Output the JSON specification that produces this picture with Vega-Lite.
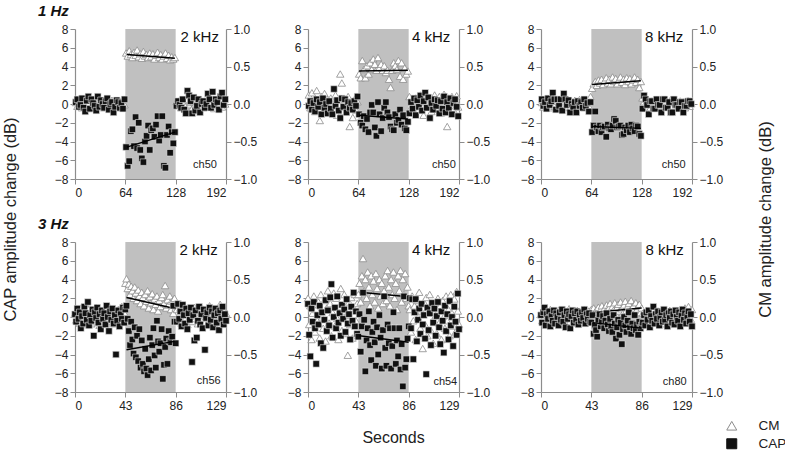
{
  "$schema": "https://vega.github.io/schema/vega-lite/v6.json",
  "description": "CAP and CM amplitude change during 1 Hz and 3 Hz stimulation, six channels",
  "padding": {"left": 2, "top": 4, "right": 0, "bottom": 0},
  "config": {
    "font": "Liberation Sans",
    "view": {"stroke": null},
    "axis": {
      "grid": false,
      "domainColor": "#8c8c8c",
      "domainWidth": 1.2,
      "tickColor": "#8c8c8c",
      "tickSize": 5,
      "labelColor": "#222222",
      "labelFontSize": 12,
      "labelPadding": 2,
      "titleFontSize": 16.5,
      "titleFontWeight": "normal",
      "titleColor": "#222222"
    },
    "legend": {
      "orient": "none",
      "legendX": 650,
      "legendY": 390,
      "symbolSize": 100,
      "symbolStrokeWidth": 1,
      "labelFontSize": 13.5,
      "labelColor": "#222222",
      "labelOffset": 20,
      "rowPadding": 3
    }
  },
  "datasets": {
    "p1": [
      {"t":1,"CM":0.02,"CAP":0.2},{"t":3,"CM":-0.03,"CAP":0.5},{"t":5,"CM":0.04,"CAP":-0.3},{"t":7,"CM":0.0,"CAP":-0.1},
      {"t":9,"CM":-0.05,"CAP":0.6},{"t":11,"CM":0.03,"CAP":-0.4},{"t":13,"CM":0.06,"CAP":-0.8},{"t":15,"CM":-0.02,"CAP":0.35},
      {"t":17,"CM":0.01,"CAP":0.8},{"t":19,"CM":-0.06,"CAP":-0.5},{"t":21,"CM":0.05,"CAP":0.5},{"t":23,"CM":-0.01,"CAP":0.1},
      {"t":25,"CM":0.03,"CAP":-0.2},{"t":27,"CM":-0.04,"CAP":-0.7},{"t":29,"CM":0.02,"CAP":0.8},{"t":31,"CM":0.05,"CAP":-0.3},
      {"t":33,"CM":-0.03,"CAP":0.4},{"t":35,"CM":0.01,"CAP":0.0},{"t":37,"CM":-0.05,"CAP":-0.4},{"t":39,"CM":0.04,"CAP":0.3},
      {"t":41,"CM":0.0,"CAP":0.6},{"t":43,"CM":0.02,"CAP":-0.6},{"t":45,"CM":-0.04,"CAP":0.0},{"t":47,"CM":0.05,"CAP":0.2},
      {"t":49,"CM":-0.02,"CAP":-0.9},{"t":51,"CM":0.03,"CAP":-0.3},{"t":53,"CM":-0.05,"CAP":0.4},{"t":55,"CM":0.01,"CAP":0.2},
      {"t":57,"CM":0.04,"CAP":-0.4},{"t":59,"CM":-0.03,"CAP":0.1},{"t":61,"CM":0.02,"CAP":-0.5},{"t":63,"CM":-0.01,"CAP":0.5},
      {"t":65,"CM":0.68,"CAP":-4.6},{"t":67,"CM":0.64,"CAP":-6.6},{"t":69,"CM":0.71,"CAP":-6.1},{"t":71,"CM":0.66,"CAP":-2.9},
      {"t":73,"CM":0.62,"CAP":-2.7},{"t":75,"CM":0.69,"CAP":-4.5},{"t":77,"CM":0.65,"CAP":-1.4},{"t":79,"CM":0.72,"CAP":-4.7},
      {"t":81,"CM":0.63,"CAP":-2.0},{"t":83,"CM":0.67,"CAP":-4.9},{"t":85,"CM":0.61,"CAP":-5.8},{"t":87,"CM":0.70,"CAP":-6.2},
      {"t":89,"CM":0.64,"CAP":-4.0},{"t":91,"CM":0.66,"CAP":-3.4},{"t":93,"CM":0.62,"CAP":-2.3},{"t":95,"CM":0.68,"CAP":-4.9},
      {"t":97,"CM":0.63,"CAP":-2.8},{"t":99,"CM":0.67,"CAP":-2.6},{"t":101,"CM":0.60,"CAP":-3.5},{"t":103,"CM":0.65,"CAP":-2.2},
      {"t":105,"CM":0.69,"CAP":-1.3},{"t":107,"CM":0.62,"CAP":-3.9},{"t":109,"CM":0.66,"CAP":-3.3},{"t":111,"CM":0.60,"CAP":-1.3},
      {"t":113,"CM":0.64,"CAP":-6.6},{"t":115,"CM":0.68,"CAP":-6.8},{"t":117,"CM":0.61,"CAP":-3.3},{"t":119,"CM":0.65,"CAP":-2.4},
      {"t":121,"CM":0.59,"CAP":-5.2},{"t":123,"CM":0.63,"CAP":-3.0},{"t":125,"CM":0.60,"CAP":-4.2},{"t":127,"CM":0.62,"CAP":-3.0},
      {"t":129,"CM":0.03,"CAP":-0.2},{"t":131,"CM":-0.02,"CAP":0.3},{"t":133,"CM":0.05,"CAP":-0.1},{"t":135,"CM":-0.05,"CAP":-0.4},
      {"t":137,"CM":0.01,"CAP":0.5},{"t":139,"CM":0.04,"CAP":-0.6},{"t":141,"CM":-0.03,"CAP":-1.0},{"t":143,"CM":0.06,"CAP":1.4},
      {"t":145,"CM":-0.01,"CAP":0.9},{"t":147,"CM":0.02,"CAP":0.3},{"t":149,"CM":-0.06,"CAP":-1.0},{"t":151,"CM":0.03,"CAP":0.7},
      {"t":153,"CM":0.0,"CAP":-0.7},{"t":155,"CM":-0.04,"CAP":-0.2},{"t":157,"CM":0.05,"CAP":0.5},{"t":159,"CM":-0.02,"CAP":-0.9},
      {"t":161,"CM":0.02,"CAP":0.0},{"t":163,"CM":-0.05,"CAP":0.3},{"t":165,"CM":0.04,"CAP":-0.4},{"t":167,"CM":0.0,"CAP":0.0},
      {"t":169,"CM":-0.03,"CAP":1.1},{"t":171,"CM":0.06,"CAP":0.5},{"t":173,"CM":-0.01,"CAP":-0.4},{"t":175,"CM":0.03,"CAP":1.3},
      {"t":177,"CM":-0.06,"CAP":-0.1},{"t":179,"CM":0.02,"CAP":0.5},{"t":181,"CM":0.05,"CAP":0.2},{"t":183,"CM":-0.02,"CAP":-0.6},
      {"t":185,"CM":0.01,"CAP":0.8},{"t":187,"CM":-0.04,"CAP":1.2},{"t":189,"CM":0.03,"CAP":-0.1},{"t":191,"CM":0.0,"CAP":0.5}
    ],
    "p2": [
      {"t":1,"CM":0.12,"CAP":-0.2},{"t":3,"CM":-0.05,"CAP":0.3},{"t":5,"CM":0.15,"CAP":-0.6},{"t":7,"CM":0.02,"CAP":0.1},
      {"t":9,"CM":-0.10,"CAP":-0.8},{"t":11,"CM":0.18,"CAP":0.5},{"t":13,"CM":0.05,"CAP":-0.3},{"t":15,"CM":-0.22,"CAP":0.2},
      {"t":17,"CM":0.10,"CAP":-1.1},{"t":19,"CM":-0.03,"CAP":0.6},{"t":21,"CM":0.14,"CAP":-0.4},{"t":23,"CM":-0.12,"CAP":0.0},
      {"t":25,"CM":0.06,"CAP":-1.0},{"t":27,"CM":-0.08,"CAP":0.3},{"t":29,"CM":0.08,"CAP":-0.5},{"t":31,"CM":0.0,"CAP":-1.1},
      {"t":33,"CM":-0.06,"CAP":1.6},{"t":35,"CM":0.12,"CAP":-0.2},{"t":37,"CM":-0.15,"CAP":0.4},{"t":39,"CM":0.05,"CAP":-0.7},
      {"t":41,"CM":0.40,"CAP":-1.5},{"t":43,"CM":0.28,"CAP":0.6},{"t":45,"CM":-0.10,"CAP":-0.3},{"t":47,"CM":0.07,"CAP":0.5},
      {"t":49,"CM":-0.04,"CAP":-0.9},{"t":51,"CM":0.10,"CAP":0.2},{"t":53,"CM":-0.30,"CAP":-0.4},{"t":55,"CM":0.02,"CAP":0.1},
      {"t":57,"CM":-0.18,"CAP":-0.6},{"t":59,"CM":0.06,"CAP":0.3},{"t":61,"CM":-0.08,"CAP":-0.2},{"t":63,"CM":0.03,"CAP":0.8},
      {"t":65,"CM":0.40,"CAP":-1.1},{"t":67,"CM":0.35,"CAP":-2.0},{"t":69,"CM":0.58,"CAP":-2.3},{"t":71,"CM":0.46,"CAP":-1.3},
      {"t":73,"CM":0.35,"CAP":-2.7},{"t":75,"CM":0.51,"CAP":-1.6},{"t":77,"CM":0.40,"CAP":-3.0},{"t":79,"CM":0.55,"CAP":-0.9},
      {"t":81,"CM":0.46,"CAP":-0.1},{"t":83,"CM":0.60,"CAP":-0.9},{"t":85,"CM":0.53,"CAP":-2.5},{"t":87,"CM":0.45,"CAP":-3.4},
      {"t":89,"CM":0.62,"CAP":0.2},{"t":91,"CM":0.49,"CAP":-1.1},{"t":93,"CM":0.53,"CAP":-2.9},{"t":95,"CM":0.45,"CAP":-1.5},
      {"t":97,"CM":0.51,"CAP":-0.4},{"t":99,"CM":0.42,"CAP":0.2},{"t":101,"CM":0.45,"CAP":-0.9},{"t":103,"CM":0.33,"CAP":-1.4},
      {"t":105,"CM":0.22,"CAP":-2.4},{"t":107,"CM":0.45,"CAP":-2.7},{"t":109,"CM":0.55,"CAP":-2.8},{"t":111,"CM":0.51,"CAP":-1.1},
      {"t":113,"CM":0.46,"CAP":-2.0},{"t":115,"CM":0.58,"CAP":-1.7},{"t":117,"CM":0.37,"CAP":-0.6},{"t":119,"CM":0.55,"CAP":-2.2},
      {"t":121,"CM":0.33,"CAP":-1.2},{"t":123,"CM":0.48,"CAP":-2.6},{"t":125,"CM":0.40,"CAP":-2.8},{"t":127,"CM":0.44,"CAP":-1.9},
      {"t":129,"CM":0.10,"CAP":-1.0},{"t":131,"CM":-0.05,"CAP":0.2},{"t":133,"CM":0.04,"CAP":-0.5},{"t":135,"CM":-0.12,"CAP":0.6},
      {"t":137,"CM":0.08,"CAP":-1.2},{"t":139,"CM":0.0,"CAP":0.4},{"t":141,"CM":-0.08,"CAP":-0.3},{"t":143,"CM":0.12,"CAP":0.9},
      {"t":145,"CM":0.03,"CAP":-0.7},{"t":147,"CM":-0.15,"CAP":0.3},{"t":149,"CM":0.06,"CAP":1.2},{"t":151,"CM":0.10,"CAP":-0.4},
      {"t":153,"CM":-0.03,"CAP":0.7},{"t":155,"CM":0.08,"CAP":-1.5},{"t":157,"CM":-0.10,"CAP":0.1},{"t":159,"CM":0.05,"CAP":-0.6},
      {"t":161,"CM":0.12,"CAP":0.5},{"t":163,"CM":-0.06,"CAP":-0.2},{"t":165,"CM":0.02,"CAP":0.4},{"t":167,"CM":0.10,"CAP":-1.0},
      {"t":169,"CM":-0.12,"CAP":0.3},{"t":171,"CM":0.04,"CAP":-0.5},{"t":173,"CM":0.13,"CAP":0.8},{"t":175,"CM":-0.05,"CAP":-0.9},
      {"t":177,"CM":-0.30,"CAP":0.2},{"t":179,"CM":0.08,"CAP":-0.4},{"t":181,"CM":-0.02,"CAP":0.6},{"t":183,"CM":0.10,"CAP":-1.1},
      {"t":185,"CM":-0.08,"CAP":0.1},{"t":187,"CM":0.05,"CAP":0.5},{"t":189,"CM":0.11,"CAP":-0.3},{"t":191,"CM":-0.04,"CAP":-1.3}
    ],
    "p3": [
      {"t":1,"CM":0.02,"CAP":0.5},{"t":3,"CM":-0.04,"CAP":-0.2},{"t":5,"CM":0.05,"CAP":0.2},{"t":7,"CM":-0.02,"CAP":-0.5},
      {"t":9,"CM":0.03,"CAP":0.6},{"t":11,"CM":-0.05,"CAP":-0.1},{"t":13,"CM":0.06,"CAP":0.3},{"t":15,"CM":0.0,"CAP":1.2},
      {"t":17,"CM":-0.03,"CAP":0.5},{"t":19,"CM":0.04,"CAP":-0.6},{"t":21,"CM":-0.06,"CAP":0.5},{"t":23,"CM":0.02,"CAP":-0.2},
      {"t":25,"CM":0.05,"CAP":0.5},{"t":27,"CM":-0.01,"CAP":-0.7},{"t":29,"CM":0.03,"CAP":1.1},{"t":31,"CM":-0.04,"CAP":0.5},
      {"t":33,"CM":0.06,"CAP":-0.1},{"t":35,"CM":0.01,"CAP":0.4},{"t":37,"CM":-0.05,"CAP":-0.9},{"t":39,"CM":0.03,"CAP":0.0},
      {"t":41,"CM":0.0,"CAP":-0.3},{"t":43,"CM":0.05,"CAP":0.2},{"t":45,"CM":-0.03,"CAP":-0.9},{"t":47,"CM":0.02,"CAP":0.3},
      {"t":49,"CM":0.06,"CAP":-0.2},{"t":51,"CM":-0.02,"CAP":0.2},{"t":53,"CM":0.04,"CAP":-0.4},{"t":55,"CM":-0.05,"CAP":0.5},
      {"t":57,"CM":0.01,"CAP":-0.2},{"t":59,"CM":0.05,"CAP":0.1},{"t":61,"CM":-0.03,"CAP":-0.8},{"t":63,"CM":0.10,"CAP":0.2},
      {"t":65,"CM":0.21,"CAP":-3.0},{"t":67,"CM":0.27,"CAP":-2.3},{"t":69,"CM":0.30,"CAP":-0.8},{"t":71,"CM":0.25,"CAP":-2.5},
      {"t":73,"CM":0.32,"CAP":-2.9},{"t":75,"CM":0.28,"CAP":-2.3},{"t":77,"CM":0.33,"CAP":-3.0},{"t":79,"CM":0.26,"CAP":-2.5},
      {"t":81,"CM":0.31,"CAP":-2.4},{"t":83,"CM":0.35,"CAP":-3.5},{"t":85,"CM":0.28,"CAP":-2.2},{"t":87,"CM":0.33,"CAP":-2.6},
      {"t":89,"CM":0.27,"CAP":-2.7},{"t":91,"CM":0.36,"CAP":-2.3},{"t":93,"CM":0.30,"CAP":-1.6},{"t":95,"CM":0.34,"CAP":-1.8},
      {"t":97,"CM":0.27,"CAP":-2.5},{"t":99,"CM":0.32,"CAP":-2.4},{"t":101,"CM":0.36,"CAP":-2.3},{"t":103,"CM":0.29,"CAP":-3.3},
      {"t":105,"CM":0.33,"CAP":-3.2},{"t":107,"CM":0.26,"CAP":-2.5},{"t":109,"CM":0.35,"CAP":-2.8},{"t":111,"CM":0.30,"CAP":-2.3},
      {"t":113,"CM":0.34,"CAP":-3.0},{"t":115,"CM":0.27,"CAP":-2.2},{"t":117,"CM":0.32,"CAP":-2.6},{"t":119,"CM":0.36,"CAP":-2.9},
      {"t":121,"CM":0.29,"CAP":-2.3},{"t":123,"CM":0.33,"CAP":-2.4},{"t":125,"CM":0.22,"CAP":-3.2},{"t":127,"CM":0.30,"CAP":-3.4},
      {"t":129,"CM":0.08,"CAP":-0.5},{"t":131,"CM":0.03,"CAP":0.9},{"t":133,"CM":-0.04,"CAP":0.5},{"t":135,"CM":0.05,"CAP":-0.1},
      {"t":137,"CM":0.0,"CAP":-1.1},{"t":139,"CM":-0.05,"CAP":0.3},{"t":141,"CM":0.04,"CAP":0.3},{"t":143,"CM":0.02,"CAP":-0.5},
      {"t":145,"CM":-0.03,"CAP":-0.5},{"t":147,"CM":0.06,"CAP":0.5},{"t":149,"CM":0.0,"CAP":-0.1},{"t":151,"CM":-0.05,"CAP":-0.1},
      {"t":153,"CM":0.03,"CAP":-0.9},{"t":155,"CM":0.05,"CAP":0.5},{"t":157,"CM":-0.02,"CAP":0.5},{"t":159,"CM":0.04,"CAP":-0.4},
      {"t":161,"CM":-0.04,"CAP":-0.4},{"t":163,"CM":0.01,"CAP":0.2},{"t":165,"CM":0.06,"CAP":-0.9},{"t":167,"CM":-0.03,"CAP":-0.9},
      {"t":169,"CM":0.02,"CAP":0.5},{"t":171,"CM":0.05,"CAP":-0.1},{"t":173,"CM":-0.05,"CAP":-0.1},{"t":175,"CM":0.0,"CAP":-0.5},
      {"t":177,"CM":0.04,"CAP":0.2},{"t":179,"CM":-0.02,"CAP":0.2},{"t":181,"CM":0.03,"CAP":-0.9},{"t":183,"CM":-0.05,"CAP":-0.2},
      {"t":185,"CM":0.02,"CAP":-0.2},{"t":187,"CM":0.05,"CAP":0.3},{"t":189,"CM":-0.03,"CAP":0.3},{"t":191,"CM":0.01,"CAP":0.0}
    ],
    "p4": [
      {"t":0,"CM":0.05,"CAP":0.3},{"t":1,"CM":-0.04,"CAP":-0.5},{"t":2,"CM":0.10,"CAP":0.9},{"t":3,"CM":0.02,"CAP":-0.2},
      {"t":4,"CM":-0.08,"CAP":0.5},{"t":5,"CM":0.12,"CAP":-1.2},{"t":6,"CM":0.0,"CAP":0.1},{"t":7,"CM":-0.05,"CAP":-0.7},
      {"t":8,"CM":0.07,"CAP":1.1},{"t":9,"CM":-0.10,"CAP":0.4},{"t":10,"CM":0.03,"CAP":-0.3},{"t":11,"CM":0.11,"CAP":1.6},
      {"t":12,"CM":-0.02,"CAP":-0.9},{"t":13,"CM":0.06,"CAP":0.2},{"t":14,"CM":-0.09,"CAP":-0.4},{"t":15,"CM":0.09,"CAP":0.8},
      {"t":16,"CM":0.01,"CAP":-2.0},{"t":17,"CM":-0.06,"CAP":0.5},{"t":18,"CM":0.13,"CAP":-0.1},{"t":19,"CM":-0.03,"CAP":1.0},
      {"t":20,"CM":0.04,"CAP":-0.6},{"t":21,"CM":-0.11,"CAP":0.3},{"t":22,"CM":0.08,"CAP":-1.3},{"t":23,"CM":0.0,"CAP":0.7},
      {"t":24,"CM":-0.06,"CAP":-0.2},{"t":25,"CM":0.10,"CAP":0.4},{"t":26,"CM":0.03,"CAP":-0.8},{"t":27,"CM":-0.08,"CAP":1.2},
      {"t":28,"CM":0.06,"CAP":0.0},{"t":29,"CM":-0.02,"CAP":-1.5},{"t":30,"CM":0.12,"CAP":0.6},{"t":31,"CM":-0.05,"CAP":-0.3},
      {"t":32,"CM":0.02,"CAP":0.9},{"t":33,"CM":0.08,"CAP":-0.7},{"t":34,"CM":-0.09,"CAP":0.2},{"t":35,"CM":0.05,"CAP":-4.0},
      {"t":36,"CM":-0.01,"CAP":-0.4},{"t":37,"CM":0.10,"CAP":0.7},{"t":38,"CM":-0.06,"CAP":-1.0},{"t":39,"CM":0.03,"CAP":0.3},
      {"t":40,"CM":0.14,"CAP":-0.2},{"t":41,"CM":-0.03,"CAP":1.0},{"t":42,"CM":0.06,"CAP":-0.6},{"t":43,"CM":0.45,"CAP":0.8},
      {"t":44,"CM":0.51,"CAP":1.2},{"t":45,"CM":0.38,"CAP":-0.2},{"t":46,"CM":0.44,"CAP":-1.5},{"t":47,"CM":0.30,"CAP":-3.0},
      {"t":48,"CM":0.41,"CAP":-0.5},{"t":49,"CM":0.35,"CAP":-2.4},{"t":50,"CM":0.25,"CAP":-3.9},{"t":51,"CM":0.40,"CAP":-1.1},
      {"t":52,"CM":0.32,"CAP":-4.3},{"t":53,"CM":0.22,"CAP":-2.0},{"t":54,"CM":0.36,"CAP":-4.7},{"t":55,"CM":0.28,"CAP":-1.3},
      {"t":56,"CM":0.18,"CAP":-5.4},{"t":57,"CM":0.33,"CAP":-2.5},{"t":58,"CM":0.26,"CAP":-5.0},{"t":59,"CM":0.15,"CAP":-5.8},
      {"t":60,"CM":0.30,"CAP":-3.4},{"t":61,"CM":0.21,"CAP":-5.5},{"t":62,"CM":0.35,"CAP":-6.2},{"t":63,"CM":0.12,"CAP":-4.5},
      {"t":64,"CM":0.27,"CAP":-2.2},{"t":65,"CM":0.19,"CAP":-5.7},{"t":66,"CM":0.31,"CAP":-3.0},{"t":67,"CM":0.10,"CAP":-1.2},
      {"t":68,"CM":0.24,"CAP":-4.1},{"t":69,"CM":0.17,"CAP":-5.4},{"t":70,"CM":0.28,"CAP":-0.4},{"t":71,"CM":0.08,"CAP":-2.6},
      {"t":72,"CM":0.22,"CAP":-3.7},{"t":73,"CM":0.14,"CAP":-2.8},{"t":74,"CM":0.26,"CAP":-1.3},{"t":75,"CM":0.30,"CAP":-6.6},
      {"t":76,"CM":0.18,"CAP":-5.1},{"t":77,"CM":0.42,"CAP":-3.2},{"t":78,"CM":0.12,"CAP":-2.3},{"t":79,"CM":0.23,"CAP":-5.0},
      {"t":80,"CM":0.16,"CAP":-1.5},{"t":81,"CM":0.28,"CAP":-2.6},{"t":82,"CM":0.10,"CAP":-2.7},{"t":83,"CM":0.21,"CAP":-2.1},
      {"t":84,"CM":0.05,"CAP":1.2},{"t":85,"CM":0.25,"CAP":-0.5},{"t":86,"CM":0.12,"CAP":-2.8},{"t":87,"CM":0.10,"CAP":-0.5},
      {"t":88,"CM":-0.05,"CAP":1.4},{"t":89,"CM":0.04,"CAP":-0.2},{"t":90,"CM":0.12,"CAP":0.6},{"t":91,"CM":-0.08,"CAP":-1.0},
      {"t":92,"CM":0.02,"CAP":1.3},{"t":93,"CM":0.07,"CAP":0.2},{"t":94,"CM":-0.03,"CAP":-0.7},{"t":95,"CM":0.11,"CAP":0.9},
      {"t":96,"CM":-0.10,"CAP":-1.3},{"t":97,"CM":0.05,"CAP":0.4},{"t":98,"CM":0.0,"CAP":-0.3},{"t":99,"CM":0.09,"CAP":1.0},
      {"t":100,"CM":-0.06,"CAP":-4.8},{"t":101,"CM":0.03,"CAP":0.2},{"t":102,"CM":0.13,"CAP":-2.5},{"t":103,"CM":-0.02,"CAP":0.7},
      {"t":104,"CM":0.06,"CAP":-2.2},{"t":105,"CM":-0.09,"CAP":-0.4},{"t":106,"CM":0.08,"CAP":1.1},{"t":107,"CM":0.01,"CAP":-0.8},
      {"t":108,"CM":-0.05,"CAP":0.3},{"t":109,"CM":0.11,"CAP":-1.2},{"t":110,"CM":0.04,"CAP":0.8},{"t":111,"CM":-0.07,"CAP":-3.5},
      {"t":112,"CM":0.09,"CAP":-0.1},{"t":113,"CM":-0.01,"CAP":0.5},{"t":114,"CM":0.05,"CAP":-0.9},{"t":115,"CM":0.15,"CAP":1.0},
      {"t":116,"CM":-0.04,"CAP":-0.3},{"t":117,"CM":0.07,"CAP":0.6},{"t":118,"CM":0.0,"CAP":-1.1},{"t":119,"CM":-0.08,"CAP":0.2},
      {"t":120,"CM":0.10,"CAP":0.9},{"t":121,"CM":0.03,"CAP":-0.6},{"t":122,"CM":-0.05,"CAP":0.4},{"t":123,"CM":0.08,"CAP":-1.4},
      {"t":124,"CM":0.17,"CAP":0.7},{"t":125,"CM":-0.02,"CAP":-0.2},{"t":126,"CM":0.06,"CAP":1.1},{"t":127,"CM":0.12,"CAP":-0.8},
      {"t":128,"CM":-0.04,"CAP":0.3},{"t":129,"CM":0.05,"CAP":-0.4}
    ],
    "p5": [
      {"t":0,"CM":0.25,"CAP":1.4},{"t":1,"CM":-0.10,"CAP":-1.9},{"t":2,"CM":0.15,"CAP":-4.2},{"t":3,"CM":-0.30,"CAP":0.9},
      {"t":4,"CM":0.05,"CAP":-0.5},{"t":5,"CM":0.28,"CAP":1.6},{"t":6,"CM":-0.20,"CAP":-1.2},{"t":7,"CM":0.10,"CAP":-5.0},
      {"t":8,"CM":-0.05,"CAP":0.2},{"t":9,"CM":0.20,"CAP":-0.8},{"t":10,"CM":-0.28,"CAP":1.2},{"t":11,"CM":0.30,"CAP":-2.8},
      {"t":12,"CM":0.0,"CAP":0.5},{"t":13,"CM":-0.15,"CAP":-3.3},{"t":14,"CM":0.22,"CAP":-0.3},{"t":15,"CM":-0.32,"CAP":1.8},
      {"t":16,"CM":0.12,"CAP":-1.5},{"t":17,"CM":0.35,"CAP":0.7},{"t":18,"CM":-0.08,"CAP":-0.9},{"t":19,"CM":0.18,"CAP":2.1},
      {"t":20,"CM":-0.25,"CAP":3.5},{"t":21,"CM":0.06,"CAP":-2.2},{"t":22,"CM":0.32,"CAP":0.0},{"t":23,"CM":-0.12,"CAP":1.0},
      {"t":24,"CM":0.25,"CAP":-1.2},{"t":25,"CM":-0.02,"CAP":2.2},{"t":26,"CM":-0.30,"CAP":-0.6},{"t":27,"CM":0.14,"CAP":0.4},
      {"t":28,"CM":0.38,"CAP":-2.0},{"t":29,"CM":-0.18,"CAP":1.3},{"t":30,"CM":0.08,"CAP":-0.2},{"t":31,"CM":0.30,"CAP":0.8},
      {"t":32,"CM":-0.22,"CAP":-1.6},{"t":33,"CM":0.02,"CAP":1.9},{"t":34,"CM":-0.51,"CAP":-0.7},{"t":35,"CM":0.20,"CAP":0.3},
      {"t":36,"CM":-0.10,"CAP":-2.4},{"t":37,"CM":0.26,"CAP":1.1},{"t":38,"CM":-0.28,"CAP":-0.4},{"t":39,"CM":0.12,"CAP":2.6},
      {"t":40,"CM":0.30,"CAP":-1.0},{"t":41,"CM":-0.05,"CAP":0.6},{"t":42,"CM":0.18,"CAP":-1.8},{"t":43,"CM":0.30,"CAP":-2.1},
      {"t":44,"CM":0.45,"CAP":0.3},{"t":45,"CM":0.20,"CAP":-3.7},{"t":46,"CM":0.55,"CAP":-1.0},{"t":47,"CM":0.78,"CAP":2.6},
      {"t":48,"CM":0.35,"CAP":-0.3},{"t":49,"CM":0.50,"CAP":-5.8},{"t":50,"CM":0.25,"CAP":-2.5},{"t":51,"CM":0.60,"CAP":-1.2},
      {"t":52,"CM":0.40,"CAP":0.6},{"t":53,"CM":0.15,"CAP":-3.0},{"t":54,"CM":0.55,"CAP":-4.6},{"t":55,"CM":0.30,"CAP":-1.6},
      {"t":56,"CM":0.48,"CAP":-0.5},{"t":57,"CM":0.20,"CAP":-2.7},{"t":58,"CM":0.58,"CAP":-5.2},{"t":59,"CM":0.38,"CAP":-1.1},
      {"t":60,"CM":0.12,"CAP":-4.0},{"t":61,"CM":0.50,"CAP":0.2},{"t":62,"CM":0.28,"CAP":-2.2},{"t":63,"CM":0.45,"CAP":-5.5},
      {"t":64,"CM":0.18,"CAP":-1.4},{"t":65,"CM":0.35,"CAP":2.2},{"t":66,"CM":0.55,"CAP":-3.3},{"t":67,"CM":0.22,"CAP":-5.2},
      {"t":68,"CM":0.62,"CAP":-0.8},{"t":69,"CM":0.40,"CAP":-2.8},{"t":70,"CM":0.15,"CAP":-1.2},{"t":71,"CM":0.50,"CAP":-5.5},
      {"t":72,"CM":0.30,"CAP":-3.1},{"t":73,"CM":0.60,"CAP":0.5},{"t":74,"CM":0.25,"CAP":-1.2},{"t":75,"CM":0.45,"CAP":-5.0},
      {"t":76,"CM":0.10,"CAP":-2.5},{"t":77,"CM":0.55,"CAP":-4.2},{"t":78,"CM":0.35,"CAP":-1.2},{"t":79,"CM":0.62,"CAP":-5.6},
      {"t":80,"CM":0.20,"CAP":-2.9},{"t":81,"CM":0.50,"CAP":-7.4},{"t":82,"CM":0.30,"CAP":2.2},{"t":83,"CM":0.58,"CAP":-5.4},
      {"t":84,"CM":0.25,"CAP":-4.5},{"t":85,"CM":0.40,"CAP":-2.3},{"t":86,"CM":0.15,"CAP":-1.0},{"t":87,"CM":0.10,"CAP":2.0},
      {"t":88,"CM":-0.20,"CAP":-1.2},{"t":89,"CM":0.28,"CAP":1.9},{"t":90,"CM":-0.05,"CAP":-4.5},{"t":91,"CM":0.15,"CAP":0.5},
      {"t":92,"CM":-0.30,"CAP":1.9},{"t":93,"CM":0.22,"CAP":-2.6},{"t":94,"CM":0.0,"CAP":-0.3},{"t":95,"CM":0.33,"CAP":0.9},
      {"t":96,"CM":-0.15,"CAP":-1.8},{"t":97,"CM":0.08,"CAP":1.4},{"t":98,"CM":-0.42,"CAP":-0.8},{"t":99,"CM":0.20,"CAP":0.2},
      {"t":100,"CM":-0.10,"CAP":-2.3},{"t":101,"CM":0.26,"CAP":-6.1},{"t":102,"CM":-0.25,"CAP":1.0},{"t":103,"CM":0.05,"CAP":-1.4},
      {"t":104,"CM":0.30,"CAP":0.4},{"t":105,"CM":-0.18,"CAP":-3.0},{"t":106,"CM":0.12,"CAP":1.5},{"t":107,"CM":-0.35,"CAP":-0.6},
      {"t":108,"CM":0.18,"CAP":0.9},{"t":109,"CM":0.02,"CAP":-2.0},{"t":110,"CM":-0.22,"CAP":0.1},{"t":111,"CM":0.25,"CAP":1.6},
      {"t":112,"CM":-0.08,"CAP":-1.1},{"t":113,"CM":0.15,"CAP":-2.9},{"t":114,"CM":-0.30,"CAP":0.6},{"t":115,"CM":0.22,"CAP":-0.4},
      {"t":116,"CM":0.0,"CAP":-3.8},{"t":117,"CM":-0.15,"CAP":1.2},{"t":118,"CM":0.28,"CAP":-1.5},{"t":119,"CM":-0.05,"CAP":0.3},
      {"t":120,"CM":0.10,"CAP":-2.4},{"t":121,"CM":-0.25,"CAP":1.7},{"t":122,"CM":0.30,"CAP":-0.9},{"t":123,"CM":0.05,"CAP":0.0},
      {"t":124,"CM":-0.12,"CAP":-3.1},{"t":125,"CM":0.24,"CAP":1.1},{"t":126,"CM":-0.20,"CAP":-0.5},{"t":127,"CM":0.34,"CAP":-1.9},
      {"t":128,"CM":0.08,"CAP":2.5},{"t":129,"CM":-0.10,"CAP":-1.3}
    ],
    "p6": [
      {"t":0,"CM":0.04,"CAP":0.2},{"t":1,"CM":-0.05,"CAP":-0.6},{"t":2,"CM":0.08,"CAP":0.5},{"t":3,"CM":0.0,"CAP":1.0},
      {"t":4,"CM":-0.09,"CAP":-0.9},{"t":5,"CM":0.06,"CAP":0.3},{"t":6,"CM":0.02,"CAP":-0.2},{"t":7,"CM":-0.04,"CAP":0.6},
      {"t":8,"CM":0.10,"CAP":-1.0},{"t":9,"CM":-0.07,"CAP":0.1},{"t":10,"CM":0.03,"CAP":-0.4},{"t":11,"CM":0.07,"CAP":0.7},
      {"t":12,"CM":-0.02,"CAP":-0.7},{"t":13,"CM":0.05,"CAP":0.4},{"t":14,"CM":-0.08,"CAP":0.0},{"t":15,"CM":0.09,"CAP":-0.9},
      {"t":16,"CM":0.0,"CAP":0.5},{"t":17,"CM":-0.05,"CAP":-0.3},{"t":18,"CM":0.06,"CAP":0.8},{"t":19,"CM":0.02,"CAP":-0.5},
      {"t":20,"CM":-0.10,"CAP":0.2},{"t":21,"CM":0.08,"CAP":-1.1},{"t":22,"CM":-0.03,"CAP":0.6},{"t":23,"CM":0.04,"CAP":-0.2},
      {"t":24,"CM":0.11,"CAP":0.3},{"t":25,"CM":-0.06,"CAP":-1.2},{"t":26,"CM":0.01,"CAP":0.1},{"t":27,"CM":0.07,"CAP":0.7},
      {"t":28,"CM":-0.04,"CAP":-0.6},{"t":29,"CM":0.05,"CAP":0.4},{"t":30,"CM":-0.08,"CAP":-0.3},{"t":31,"CM":0.09,"CAP":0.6},
      {"t":32,"CM":0.0,"CAP":-0.8},{"t":33,"CM":-0.03,"CAP":0.2},{"t":34,"CM":0.06,"CAP":-0.4},{"t":35,"CM":0.02,"CAP":0.5},
      {"t":36,"CM":-0.07,"CAP":-0.1},{"t":37,"CM":0.10,"CAP":0.8},{"t":38,"CM":-0.01,"CAP":-0.7},{"t":39,"CM":0.04,"CAP":0.3},
      {"t":40,"CM":-0.05,"CAP":-0.2},{"t":41,"CM":0.08,"CAP":0.4},{"t":42,"CM":0.03,"CAP":-0.5},{"t":43,"CM":0.10,"CAP":-0.6},
      {"t":44,"CM":0.05,"CAP":0.2},{"t":45,"CM":0.12,"CAP":-1.8},{"t":46,"CM":0.02,"CAP":-0.9},{"t":47,"CM":0.09,"CAP":-1.4},
      {"t":48,"CM":0.06,"CAP":-2.1},{"t":49,"CM":0.13,"CAP":-0.3},{"t":50,"CM":0.0,"CAP":0.3},{"t":51,"CM":0.10,"CAP":-1.0},
      {"t":52,"CM":0.15,"CAP":-0.5},{"t":53,"CM":0.04,"CAP":0.1},{"t":54,"CM":0.11,"CAP":-1.2},{"t":55,"CM":0.07,"CAP":-0.4},
      {"t":56,"CM":0.16,"CAP":0.4},{"t":57,"CM":0.02,"CAP":-0.8},{"t":58,"CM":0.12,"CAP":-1.5},{"t":59,"CM":0.18,"CAP":-0.2},
      {"t":60,"CM":0.06,"CAP":-1.0},{"t":61,"CM":0.14,"CAP":-1.6},{"t":62,"CM":0.09,"CAP":0.2},{"t":63,"CM":0.19,"CAP":-0.7},
      {"t":64,"CM":0.03,"CAP":-2.3},{"t":65,"CM":0.13,"CAP":-1.1},{"t":66,"CM":0.17,"CAP":-0.3},{"t":67,"CM":0.08,"CAP":-1.9},
      {"t":68,"CM":0.20,"CAP":-0.6},{"t":69,"CM":0.11,"CAP":-2.9},{"t":70,"CM":0.05,"CAP":-1.3},{"t":71,"CM":0.16,"CAP":0.0},
      {"t":72,"CM":0.21,"CAP":-0.9},{"t":73,"CM":0.09,"CAP":-1.6},{"t":74,"CM":0.14,"CAP":-0.4},{"t":75,"CM":0.18,"CAP":0.5},
      {"t":76,"CM":0.07,"CAP":-1.1},{"t":77,"CM":0.22,"CAP":-1.8},{"t":78,"CM":0.12,"CAP":-0.7},{"t":79,"CM":0.15,"CAP":-1.2},
      {"t":80,"CM":0.04,"CAP":0.2},{"t":81,"CM":0.19,"CAP":-1.4},{"t":82,"CM":0.10,"CAP":-0.8},{"t":83,"CM":0.14,"CAP":-1.9},
      {"t":84,"CM":0.17,"CAP":-0.5},{"t":85,"CM":0.06,"CAP":-1.2},{"t":86,"CM":0.12,"CAP":-0.9},{"t":87,"CM":0.05,"CAP":-0.6},
      {"t":88,"CM":-0.06,"CAP":0.2},{"t":89,"CM":0.03,"CAP":-0.9},{"t":90,"CM":0.09,"CAP":0.5},{"t":91,"CM":-0.02,"CAP":-0.3},
      {"t":92,"CM":0.06,"CAP":0.7},{"t":93,"CM":-0.08,"CAP":-1.1},{"t":94,"CM":0.02,"CAP":0.1},{"t":95,"CM":0.10,"CAP":-0.4},
      {"t":96,"CM":-0.04,"CAP":1.1},{"t":97,"CM":0.05,"CAP":-0.7},{"t":98,"CM":0.0,"CAP":0.3},{"t":99,"CM":-0.07,"CAP":-0.2},
      {"t":100,"CM":0.08,"CAP":0.6},{"t":101,"CM":0.03,"CAP":-0.9},{"t":102,"CM":-0.05,"CAP":0.0},{"t":103,"CM":0.07,"CAP":0.5},
      {"t":104,"CM":-0.01,"CAP":-0.5},{"t":105,"CM":0.04,"CAP":0.8},{"t":106,"CM":-0.09,"CAP":-0.3},{"t":107,"CM":0.06,"CAP":0.2},
      {"t":108,"CM":0.01,"CAP":-1.0},{"t":109,"CM":-0.04,"CAP":0.4},{"t":110,"CM":0.09,"CAP":-0.1},{"t":111,"CM":0.02,"CAP":0.6},
      {"t":112,"CM":-0.06,"CAP":-0.6},{"t":113,"CM":0.07,"CAP":0.3},{"t":114,"CM":0.0,"CAP":-0.8},{"t":115,"CM":-0.03,"CAP":0.7},
      {"t":116,"CM":0.08,"CAP":0.0},{"t":117,"CM":0.04,"CAP":-0.4},{"t":118,"CM":-0.07,"CAP":0.5},{"t":119,"CM":0.05,"CAP":-1.0},
      {"t":120,"CM":0.10,"CAP":0.2},{"t":121,"CM":-0.02,"CAP":0.8},{"t":122,"CM":0.06,"CAP":-0.3},{"t":123,"CM":0.12,"CAP":0.4},
      {"t":124,"CM":-0.04,"CAP":-0.7},{"t":125,"CM":0.03,"CAP":0.1},{"t":126,"CM":0.14,"CAP":0.6},{"t":127,"CM":0.07,"CAP":-0.5},
      {"t":128,"CM":-0.03,"CAP":0.3},{"t":129,"CM":0.10,"CAP":-1.0}
    ]
  },
  "columns": 3,
  "spacing": {"row": 63, "column": 82},
  "bounds": "flush",
  "concat": [
    {
      "width": 151, "height": 150,
      "title": {"text": "1 Hz", "anchor": "start", "frame": "group", "dx": -37, "offset": 4, "fontSize": 15, "fontStyle": "italic", "fontWeight": "bold", "color": "#111111"},
      "data": {"name": "p1"},
      "encoding": {"x": {"field": "t", "type": "quantitative", "scale": {"domain": [0, 192]}, "axis": {"values": [0, 64, 128, 192], "title": null, "labelPadding": 3}}},
      "layer": [
        {"data": {"values": [{"t": 64, "t2": 128}]}, "mark": {"type": "rect", "color": "#c0c0c0"},
         "encoding": {"x2": {"field": "t2"}, "y": {"datum": -8, "type": "quantitative", "scale": {"domain": [-8, 8]},
           "axis": {"orient": "left", "values": [-8, -6, -4, -2, 0, 2, 4, 6, 8], "title": "CAP amplitude change (dB)", "titleAngle": 270, "titleX": -65, "titleY": 190, "titleAlign": "center", "titleBaseline": "middle"}},
           "y2": {"datum": 8}}},
        {"encoding": {"y": {"field": "v", "type": "quantitative", "scale": {"domain": [-1, 1]}, "axis": {"orient": "right", "values": [-1, -0.5, 0, 0.5, 1], "format": ".1f", "title": null}}},
         "layer": [
           {"transform": [{"fold": ["CM", "CAP"], "as": ["s", "v"]}, {"filter": "datum.s == 'CM'"}],
            "mark": {"type": "point", "filled": true, "size": 55, "strokeWidth": 0.8, "opacity": 1},
            "encoding": {
              "shape": {"field": "s", "type": "nominal", "scale": {"domain": ["CM", "CAP"], "range": ["triangle-up", "square"]}, "legend": {"title": null}},
              "fill": {"field": "s", "type": "nominal", "scale": {"domain": ["CM", "CAP"], "range": ["#ffffff", "#111111"]}, "legend": {"title": null}},
              "stroke": {"field": "s", "type": "nominal", "scale": {"domain": ["CM", "CAP"], "range": ["#8c8c8c", "#111111"]}, "legend": {"title": null}}}},
           {"data": {"values": [{"t": 66, "v": 0.66, "t2": 127, "v2": 0.61}]}, "mark": {"type": "rule", "color": "#000000", "strokeWidth": 1.5},
            "encoding": {"x2": {"field": "t2"}, "y2": {"field": "v2"}}}
         ]},
        {"encoding": {"y": {"field": "v", "type": "quantitative", "scale": {"domain": [-8, 8]}, "axis": null}},
         "layer": [
           {"transform": [{"fold": ["CM", "CAP"], "as": ["s", "v"]}, {"filter": "datum.s == 'CAP'"}],
            "mark": {"type": "point", "filled": true, "size": 42, "stroke": "#e6e6e6", "strokeWidth": 0.6, "opacity": 1},
            "encoding": {
              "shape": {"field": "s", "type": "nominal", "scale": {"domain": ["CM", "CAP"], "range": ["triangle-up", "square"]}, "legend": {"title": null}},
              "fill": {"field": "s", "type": "nominal", "scale": {"domain": ["CM", "CAP"], "range": ["#ffffff", "#111111"]}, "legend": {"title": null}}}},
           {"data": {"values": [{"t": 66, "v": -4.6, "t2": 127, "v2": -3.0}]}, "mark": {"type": "rule", "color": "#000000", "strokeWidth": 1.5},
            "encoding": {"x2": {"field": "t2"}, "y2": {"field": "v2"}}},
           {"data": {"values": [{"t": 183, "v": 7.2, "lab": "2 kHz"}]}, "mark": {"type": "text", "align": "right", "baseline": "middle", "fontSize": 15, "color": "#111111"}, "encoding": {"text": {"field": "lab"}}},
           {"data": {"values": [{"t": 180.5, "v": -6.5, "lab": "ch50"}]}, "mark": {"type": "text", "align": "right", "baseline": "middle", "fontSize": 11, "color": "#222222"}, "encoding": {"text": {"field": "lab"}}}
         ]}
      ],
      "resolve": {"scale": {"y": "independent"}}
    },
    {
      "width": 151, "height": 150,
      "data": {"name": "p2"},
      "encoding": {"x": {"field": "t", "type": "quantitative", "scale": {"domain": [0, 192]}, "axis": {"values": [0, 64, 128, 192], "title": null, "labelPadding": 3}}},
      "layer": [
        {"data": {"values": [{"t": 64, "t2": 128}]}, "mark": {"type": "rect", "color": "#c0c0c0"},
         "encoding": {"x2": {"field": "t2"}, "y": {"datum": -8, "type": "quantitative", "scale": {"domain": [-8, 8]}, "axis": {"orient": "left", "values": [-8, -6, -4, -2, 0, 2, 4, 6, 8], "title": null}}, "y2": {"datum": 8}}},
        {"encoding": {"y": {"field": "v", "type": "quantitative", "scale": {"domain": [-1, 1]}, "axis": {"orient": "right", "values": [-1, -0.5, 0, 0.5, 1], "format": ".1f", "title": null}}},
         "layer": [
           {"transform": [{"fold": ["CM", "CAP"], "as": ["s", "v"]}, {"filter": "datum.s == 'CM'"}],
            "mark": {"type": "point", "filled": true, "size": 55, "strokeWidth": 0.8, "opacity": 1},
            "encoding": {
              "shape": {"field": "s", "type": "nominal", "scale": {"domain": ["CM", "CAP"], "range": ["triangle-up", "square"]}, "legend": {"title": null}},
              "fill": {"field": "s", "type": "nominal", "scale": {"domain": ["CM", "CAP"], "range": ["#ffffff", "#111111"]}, "legend": {"title": null}},
              "stroke": {"field": "s", "type": "nominal", "scale": {"domain": ["CM", "CAP"], "range": ["#8c8c8c", "#111111"]}, "legend": {"title": null}}}},
           {"data": {"values": [{"t": 65, "v": 0.44, "t2": 127, "v2": 0.45}]}, "mark": {"type": "rule", "color": "#000000", "strokeWidth": 1.5},
            "encoding": {"x2": {"field": "t2"}, "y2": {"field": "v2"}}}
         ]},
        {"encoding": {"y": {"field": "v", "type": "quantitative", "scale": {"domain": [-8, 8]}, "axis": null}},
         "layer": [
           {"transform": [{"fold": ["CM", "CAP"], "as": ["s", "v"]}, {"filter": "datum.s == 'CAP'"}],
            "mark": {"type": "point", "filled": true, "size": 42, "stroke": "#e6e6e6", "strokeWidth": 0.6, "opacity": 1},
            "encoding": {
              "shape": {"field": "s", "type": "nominal", "scale": {"domain": ["CM", "CAP"], "range": ["triangle-up", "square"]}, "legend": {"title": null}},
              "fill": {"field": "s", "type": "nominal", "scale": {"domain": ["CM", "CAP"], "range": ["#ffffff", "#111111"]}, "legend": {"title": null}}}},
           {"data": {"values": [{"t": 65, "v": -1.2, "t2": 127, "v2": -1.6}]}, "mark": {"type": "rule", "color": "#000000", "strokeWidth": 1.5},
            "encoding": {"x2": {"field": "t2"}, "y2": {"field": "v2"}}},
           {"data": {"values": [{"t": 181, "v": 7.2, "lab": "4 kHz"}]}, "mark": {"type": "text", "align": "right", "baseline": "middle", "fontSize": 15, "color": "#111111"}, "encoding": {"text": {"field": "lab"}}},
           {"data": {"values": [{"t": 188, "v": -6.5, "lab": "ch50"}]}, "mark": {"type": "text", "align": "right", "baseline": "middle", "fontSize": 11, "color": "#222222"}, "encoding": {"text": {"field": "lab"}}}
         ]}
      ],
      "resolve": {"scale": {"y": "independent"}}
    },
    {
      "width": 151, "height": 150,
      "data": {"name": "p3"},
      "encoding": {"x": {"field": "t", "type": "quantitative", "scale": {"domain": [0, 192]}, "axis": {"values": [0, 64, 128, 192], "title": null, "labelPadding": 3}}},
      "layer": [
        {"data": {"values": [{"t": 64, "t2": 128}]}, "mark": {"type": "rect", "color": "#c0c0c0"},
         "encoding": {"x2": {"field": "t2"}, "y": {"datum": -8, "type": "quantitative", "scale": {"domain": [-8, 8]}, "axis": {"orient": "left", "values": [-8, -6, -4, -2, 0, 2, 4, 6, 8], "title": null}}, "y2": {"datum": 8}}},
        {"encoding": {"y": {"field": "v", "type": "quantitative", "scale": {"domain": [-1, 1]},
           "axis": {"orient": "right", "values": [-1, -0.5, 0, 0.5, 1], "format": ".1f", "title": "CM amplitude change (dB)", "titleAngle": 270, "titleX": 73, "titleY": 190, "titleAlign": "center", "titleBaseline": "middle"}}},
         "layer": [
           {"transform": [{"fold": ["CM", "CAP"], "as": ["s", "v"]}, {"filter": "datum.s == 'CM'"}],
            "mark": {"type": "point", "filled": true, "size": 55, "strokeWidth": 0.8, "opacity": 1},
            "encoding": {
              "shape": {"field": "s", "type": "nominal", "scale": {"domain": ["CM", "CAP"], "range": ["triangle-up", "square"]}, "legend": {"title": null}},
              "fill": {"field": "s", "type": "nominal", "scale": {"domain": ["CM", "CAP"], "range": ["#ffffff", "#111111"]}, "legend": {"title": null}},
              "stroke": {"field": "s", "type": "nominal", "scale": {"domain": ["CM", "CAP"], "range": ["#8c8c8c", "#111111"]}, "legend": {"title": null}}}},
           {"data": {"values": [{"t": 65, "v": 0.26, "t2": 127, "v2": 0.31}]}, "mark": {"type": "rule", "color": "#000000", "strokeWidth": 1.5},
            "encoding": {"x2": {"field": "t2"}, "y2": {"field": "v2"}}}
         ]},
        {"encoding": {"y": {"field": "v", "type": "quantitative", "scale": {"domain": [-8, 8]}, "axis": null}},
         "layer": [
           {"transform": [{"fold": ["CM", "CAP"], "as": ["s", "v"]}, {"filter": "datum.s == 'CAP'"}],
            "mark": {"type": "point", "filled": true, "size": 42, "stroke": "#e6e6e6", "strokeWidth": 0.6, "opacity": 1},
            "encoding": {
              "shape": {"field": "s", "type": "nominal", "scale": {"domain": ["CM", "CAP"], "range": ["triangle-up", "square"]}, "legend": {"title": null}},
              "fill": {"field": "s", "type": "nominal", "scale": {"domain": ["CM", "CAP"], "range": ["#ffffff", "#111111"]}, "legend": {"title": null}}}},
           {"data": {"values": [{"t": 65, "v": -2.4, "t2": 127, "v2": -2.6}]}, "mark": {"type": "rule", "color": "#000000", "strokeWidth": 1.5},
            "encoding": {"x2": {"field": "t2"}, "y2": {"field": "v2"}}},
           {"data": {"values": [{"t": 181, "v": 7.2, "lab": "8 kHz"}]}, "mark": {"type": "text", "align": "right", "baseline": "middle", "fontSize": 15, "color": "#111111"}, "encoding": {"text": {"field": "lab"}}},
           {"data": {"values": [{"t": 184, "v": -6.5, "lab": "ch50"}]}, "mark": {"type": "text", "align": "right", "baseline": "middle", "fontSize": 11, "color": "#222222"}, "encoding": {"text": {"field": "lab"}}}
         ]}
      ],
      "resolve": {"scale": {"y": "independent"}}
    },
    {
      "width": 151, "height": 150,
      "title": {"text": "3 Hz", "anchor": "start", "frame": "group", "dx": -37, "offset": 4, "fontSize": 15, "fontStyle": "italic", "fontWeight": "bold", "color": "#111111"},
      "data": {"name": "p4"},
      "encoding": {"x": {"field": "t", "type": "quantitative", "scale": {"domain": [0, 129]}, "axis": {"values": [0, 43, 86, 129], "title": null, "labelPadding": 3}}},
      "layer": [
        {"data": {"values": [{"t": 43, "t2": 86}]}, "mark": {"type": "rect", "color": "#c0c0c0"},
         "encoding": {"x2": {"field": "t2"}, "y": {"datum": -8, "type": "quantitative", "scale": {"domain": [-8, 8]}, "axis": {"orient": "left", "values": [-8, -6, -4, -2, 0, 2, 4, 6, 8], "title": null}}, "y2": {"datum": 8}}},
        {"encoding": {"y": {"field": "v", "type": "quantitative", "scale": {"domain": [-1, 1]}, "axis": {"orient": "right", "values": [-1, -0.5, 0, 0.5, 1], "format": ".1f", "title": null}}},
         "layer": [
           {"transform": [{"fold": ["CM", "CAP"], "as": ["s", "v"]}, {"filter": "datum.s == 'CM'"}],
            "mark": {"type": "point", "filled": true, "size": 55, "strokeWidth": 0.8, "opacity": 1},
            "encoding": {
              "shape": {"field": "s", "type": "nominal", "scale": {"domain": ["CM", "CAP"], "range": ["triangle-up", "square"]}, "legend": {"title": null}},
              "fill": {"field": "s", "type": "nominal", "scale": {"domain": ["CM", "CAP"], "range": ["#ffffff", "#111111"]}, "legend": {"title": null}},
              "stroke": {"field": "s", "type": "nominal", "scale": {"domain": ["CM", "CAP"], "range": ["#8c8c8c", "#111111"]}, "legend": {"title": null}}}},
           {"data": {"values": [{"t": 44, "v": 0.26, "t2": 86, "v2": 0.11}]}, "mark": {"type": "rule", "color": "#000000", "strokeWidth": 1.5},
            "encoding": {"x2": {"field": "t2"}, "y2": {"field": "v2"}}}
         ]},
        {"encoding": {"y": {"field": "v", "type": "quantitative", "scale": {"domain": [-8, 8]}, "axis": null}},
         "layer": [
           {"transform": [{"fold": ["CM", "CAP"], "as": ["s", "v"]}, {"filter": "datum.s == 'CAP'"}],
            "mark": {"type": "point", "filled": true, "size": 42, "stroke": "#e6e6e6", "strokeWidth": 0.6, "opacity": 1},
            "encoding": {
              "shape": {"field": "s", "type": "nominal", "scale": {"domain": ["CM", "CAP"], "range": ["triangle-up", "square"]}, "legend": {"title": null}},
              "fill": {"field": "s", "type": "nominal", "scale": {"domain": ["CM", "CAP"], "range": ["#ffffff", "#111111"]}, "legend": {"title": null}}}},
           {"data": {"values": [{"t": 44, "v": -3.5, "t2": 85, "v2": -2.6}]}, "mark": {"type": "rule", "color": "#000000", "strokeWidth": 1.5},
            "encoding": {"x2": {"field": "t2"}, "y2": {"field": "v2"}}},
           {"data": {"values": [{"t": 122, "v": 7.1, "lab": "2 kHz"}]}, "mark": {"type": "text", "align": "right", "baseline": "middle", "fontSize": 15, "color": "#111111"}, "encoding": {"text": {"field": "lab"}}},
           {"data": {"values": [{"t": 124.5, "v": -6.8, "lab": "ch56"}]}, "mark": {"type": "text", "align": "right", "baseline": "middle", "fontSize": 11, "color": "#222222"}, "encoding": {"text": {"field": "lab"}}}
         ]}
      ],
      "resolve": {"scale": {"y": "independent"}}
    },
    {
      "width": 151, "height": 150,
      "data": {"name": "p5"},
      "encoding": {"x": {"field": "t", "type": "quantitative", "scale": {"domain": [0, 129]}, "axis": {"values": [0, 43, 86, 129], "labelPadding": 3, "title": "Seconds", "titleFontSize": 16, "titleX": 85, "titleY": 45, "titleBaseline": "middle"}}},
      "layer": [
        {"data": {"values": [{"t": 43, "t2": 86}]}, "mark": {"type": "rect", "color": "#c0c0c0"},
         "encoding": {"x2": {"field": "t2"}, "y": {"datum": -8, "type": "quantitative", "scale": {"domain": [-8, 8]}, "axis": {"orient": "left", "values": [-8, -6, -4, -2, 0, 2, 4, 6, 8], "title": null}}, "y2": {"datum": 8}}},
        {"encoding": {"y": {"field": "v", "type": "quantitative", "scale": {"domain": [-1, 1]}, "axis": {"orient": "right", "values": [-1, -0.5, 0, 0.5, 1], "format": ".1f", "title": null}}},
         "layer": [
           {"transform": [{"fold": ["CM", "CAP"], "as": ["s", "v"]}, {"filter": "datum.s == 'CM'"}],
            "mark": {"type": "point", "filled": true, "size": 55, "strokeWidth": 0.8, "opacity": 1},
            "encoding": {
              "shape": {"field": "s", "type": "nominal", "scale": {"domain": ["CM", "CAP"], "range": ["triangle-up", "square"]}, "legend": {"title": null}},
              "fill": {"field": "s", "type": "nominal", "scale": {"domain": ["CM", "CAP"], "range": ["#ffffff", "#111111"]}, "legend": {"title": null}},
              "stroke": {"field": "s", "type": "nominal", "scale": {"domain": ["CM", "CAP"], "range": ["#8c8c8c", "#111111"]}, "legend": {"title": null}}}},
           {"data": {"values": [{"t": 44, "v": 0.33, "t2": 86, "v2": 0.27}]}, "mark": {"type": "rule", "color": "#000000", "strokeWidth": 1.5},
            "encoding": {"x2": {"field": "t2"}, "y2": {"field": "v2"}}}
         ]},
        {"encoding": {"y": {"field": "v", "type": "quantitative", "scale": {"domain": [-8, 8]}, "axis": null}},
         "layer": [
           {"transform": [{"fold": ["CM", "CAP"], "as": ["s", "v"]}, {"filter": "datum.s == 'CAP'"}],
            "mark": {"type": "point", "filled": true, "size": 42, "stroke": "#e6e6e6", "strokeWidth": 0.6, "opacity": 1},
            "encoding": {
              "shape": {"field": "s", "type": "nominal", "scale": {"domain": ["CM", "CAP"], "range": ["triangle-up", "square"]}, "legend": {"title": null}},
              "fill": {"field": "s", "type": "nominal", "scale": {"domain": ["CM", "CAP"], "range": ["#ffffff", "#111111"]}, "legend": {"title": null}}}},
           {"data": {"values": [{"t": 44, "v": -2.0, "t2": 86, "v2": -2.7}]}, "mark": {"type": "rule", "color": "#000000", "strokeWidth": 1.5},
            "encoding": {"x2": {"field": "t2"}, "y2": {"field": "v2"}}},
           {"data": {"values": [{"t": 121.5, "v": 7.1, "lab": "4 kHz"}]}, "mark": {"type": "text", "align": "right", "baseline": "middle", "fontSize": 15, "color": "#111111"}, "encoding": {"text": {"field": "lab"}}},
           {"data": {"values": [{"t": 127.5, "v": -6.9, "lab": "ch54"}]}, "mark": {"type": "text", "align": "right", "baseline": "middle", "fontSize": 11, "color": "#222222"}, "encoding": {"text": {"field": "lab"}}}
         ]}
      ],
      "resolve": {"scale": {"y": "independent"}}
    },
    {
      "width": 151, "height": 150,
      "data": {"name": "p6"},
      "encoding": {"x": {"field": "t", "type": "quantitative", "scale": {"domain": [0, 129]}, "axis": {"values": [0, 43, 86, 129], "title": null, "labelPadding": 3}}},
      "layer": [
        {"data": {"values": [{"t": 43, "t2": 86}]}, "mark": {"type": "rect", "color": "#c0c0c0"},
         "encoding": {"x2": {"field": "t2"}, "y": {"datum": -8, "type": "quantitative", "scale": {"domain": [-8, 8]}, "axis": {"orient": "left", "values": [-8, -6, -4, -2, 0, 2, 4, 6, 8], "title": null}}, "y2": {"datum": 8}}},
        {"encoding": {"y": {"field": "v", "type": "quantitative", "scale": {"domain": [-1, 1]}, "axis": {"orient": "right", "values": [-1, -0.5, 0, 0.5, 1], "format": ".1f", "title": null}}},
         "layer": [
           {"transform": [{"fold": ["CM", "CAP"], "as": ["s", "v"]}, {"filter": "datum.s == 'CM'"}],
            "mark": {"type": "point", "filled": true, "size": 55, "strokeWidth": 0.8, "opacity": 1},
            "encoding": {
              "shape": {"field": "s", "type": "nominal", "scale": {"domain": ["CM", "CAP"], "range": ["triangle-up", "square"]}, "legend": {"title": null}},
              "fill": {"field": "s", "type": "nominal", "scale": {"domain": ["CM", "CAP"], "range": ["#ffffff", "#111111"]}, "legend": {"title": null}},
              "stroke": {"field": "s", "type": "nominal", "scale": {"domain": ["CM", "CAP"], "range": ["#8c8c8c", "#111111"]}, "legend": {"title": null}}}},
           {"data": {"values": [{"t": 44, "v": 0.06, "t2": 86, "v2": 0.12}]}, "mark": {"type": "rule", "color": "#000000", "strokeWidth": 1.5},
            "encoding": {"x2": {"field": "t2"}, "y2": {"field": "v2"}}}
         ]},
        {"encoding": {"y": {"field": "v", "type": "quantitative", "scale": {"domain": [-8, 8]}, "axis": null}},
         "layer": [
           {"transform": [{"fold": ["CM", "CAP"], "as": ["s", "v"]}, {"filter": "datum.s == 'CAP'"}],
            "mark": {"type": "point", "filled": true, "size": 42, "stroke": "#e6e6e6", "strokeWidth": 0.6, "opacity": 1},
            "encoding": {
              "shape": {"field": "s", "type": "nominal", "scale": {"domain": ["CM", "CAP"], "range": ["triangle-up", "square"]}, "legend": {"title": null}},
              "fill": {"field": "s", "type": "nominal", "scale": {"domain": ["CM", "CAP"], "range": ["#ffffff", "#111111"]}, "legend": {"title": null}}}},
           {"data": {"values": [{"t": 44, "v": -0.6, "t2": 86, "v2": -1.2}]}, "mark": {"type": "rule", "color": "#000000", "strokeWidth": 1.5},
            "encoding": {"x2": {"field": "t2"}, "y2": {"field": "v2"}}},
           {"data": {"values": [{"t": 122, "v": 7.1, "lab": "8 kHz"}]}, "mark": {"type": "text", "align": "right", "baseline": "middle", "fontSize": 15, "color": "#111111"}, "encoding": {"text": {"field": "lab"}}},
           {"data": {"values": [{"t": 124.5, "v": -6.9, "lab": "ch80"}]}, "mark": {"type": "text", "align": "right", "baseline": "middle", "fontSize": 11, "color": "#222222"}, "encoding": {"text": {"field": "lab"}}}
         ]}
      ],
      "resolve": {"scale": {"y": "independent"}}
    }
  ]
}
